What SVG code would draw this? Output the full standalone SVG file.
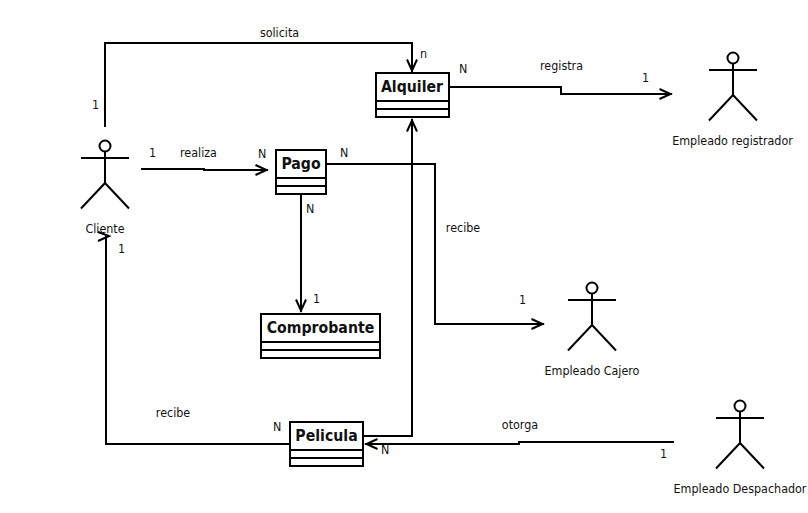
<svg xmlns="http://www.w3.org/2000/svg" width="808" height="513" viewBox="0 0 808 513">
<style>
.l{fill:none;stroke:#000;stroke-width:2}
.b{fill:#fff;stroke:#000;stroke-width:2}
.t{font-family:"DejaVu Sans",sans-serif;font-stretch:condensed;font-size:12.4px;fill:#111}
.m{text-anchor:middle}
.h{font-family:"DejaVu Sans",sans-serif;font-stretch:condensed;font-size:15.7px;font-weight:bold;fill:#111;text-anchor:middle}
</style>
<defs>
<marker id="a" markerUnits="userSpaceOnUse" markerWidth="18" markerHeight="16" refX="14.500" refY="8" orient="auto"><path d="M2 3L13 8L2 13" fill="none" stroke="#000" stroke-width="2"/></marker>
<g id="actor"><circle cx="0" cy="0" r="5.5" class="b"/><path class="l" d="M-24 12H24M0 5.500V37L-24 62.500M0 37L24 62.500"/></g>
</defs>
<rect width="808" height="513" fill="#fff"/>
<g id="connectors">
<path class="l" marker-end="url(#a)" d="M105 127V43H412V72"/>
<path class="l" marker-end="url(#a)" d="M141 169H204V170H268"/>
<path class="l" marker-end="url(#a)" d="M301 194V312"/>
<path class="l" marker-end="url(#a)" d="M326 164H435V324H544"/>
<path class="l" marker-end="url(#a)" d="M363 436H412V119"/>
<path class="l" marker-end="url(#a)" d="M449 87H561V94H672"/>
<path class="l" marker-end="url(#a)" d="M674 442H519V444H365"/>
<path class="l" d="M290 444H106V236"/>
<path class="l" d="M98 232L109 236L98 241"/>
</g>
<g id="node-cliente"><use href="#actor" x="105" y="146"/><text class="t m" x="105" y="233">Cliente</text></g>
<g id="node-registrador"><use href="#actor" x="733" y="58"/><text class="t m" x="732.500" y="145">Empleado registrador</text></g>
<g id="node-cajero"><use href="#actor" x="592" y="288"/><text class="t m" x="592" y="375">Empleado Cajero</text></g>
<g id="node-despachador"><use href="#actor" x="740" y="406"/><text class="t m" x="740" y="493">Empleado Despachador</text></g>
<g id="node-alquiler"><rect class="b" x="376" y="73" width="73" height="44"/><path class="l" d="M376 101H449M376 109H449"/><text class="h" x="412" y="92">Alquiler</text></g>
<g id="node-pago"><rect class="b" x="276" y="150" width="50" height="44"/><path class="l" d="M276 178H326M276 186H326"/><text class="h" x="301" y="169">Pago</text></g>
<g id="node-comprobante"><rect class="b" x="261" y="314" width="119" height="44"/><path class="l" d="M261 342H380M261 350H380"/><text class="h" x="320.500" y="333">Comprobante</text></g>
<g id="node-pelicula"><rect class="b" x="290" y="422" width="73" height="44"/><path class="l" d="M290 450H363M290 458H363"/><text class="h" x="326.500" y="441">Pelicula</text></g>
<g id="labels">
<text class="t m" x="279.500" y="37">solicita</text>
<text class="t" x="420" y="58">n</text>
<text class="t" x="92" y="109">1</text>
<text class="t" x="149" y="157">1</text>
<text class="t m" x="198.500" y="157">realiza</text>
<text class="t" x="258" y="158">N</text>
<text class="t" x="340" y="157">N</text>
<text class="t" x="306" y="213">N</text>
<text class="t" x="118" y="253">1</text>
<text class="t" x="459" y="73">N</text>
<text class="t m" x="561.500" y="70">registra</text>
<text class="t" x="642" y="82">1</text>
<text class="t m" x="463" y="232">recibe</text>
<text class="t" x="313" y="303">1</text>
<text class="t" x="519" y="304">1</text>
<text class="t m" x="173" y="417">recibe</text>
<text class="t" x="273" y="431">N</text>
<text class="t" x="381" y="454">N</text>
<text class="t m" x="520" y="429">otorga</text>
<text class="t" x="660" y="458">1</text>
</g>
</svg>
